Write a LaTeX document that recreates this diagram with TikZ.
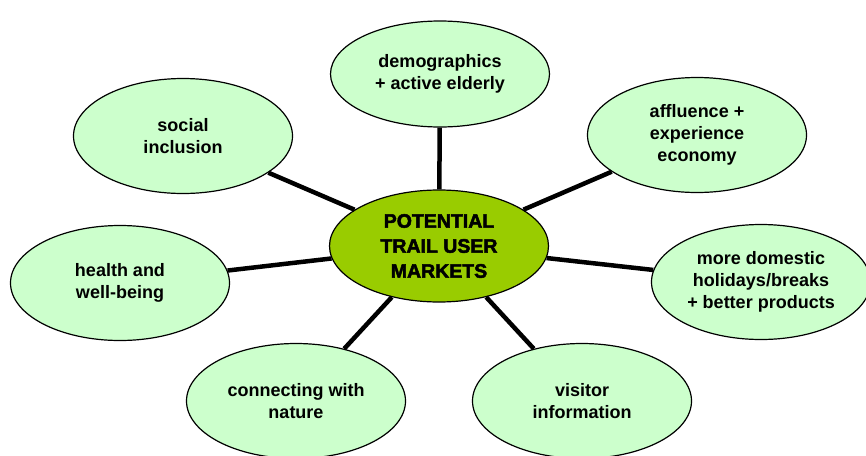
\documentclass[tikz,border=0pt]{standalone}
\usepackage{fontspec}
\setmainfont{Liberation Sans}
\newfontfamily\heavyfont{Liberation Sans Bold}[FakeBold=2.5]
\usetikzlibrary{shapes.geometric}
\definecolor{leafgreen}{HTML}{CCFFCC}
\definecolor{hubgreen}{HTML}{99CC00}

\begin{document}
\begin{tikzpicture}[x=1pt, y=-1pt,
  market/.style={ellipse, draw, line width=1.2pt, fill=leafgreen, inner sep=0pt,
    minimum width=219pt, minimum height=115pt, align=center,
    font=\bfseries\fontsize{18}{22}\selectfont},
  core/.style={market, fill=hubgreen, minimum height=112pt,
    font=\heavyfont\fontsize{19.5}{25}\selectfont},
  spoke/.style={line width=4.5pt}]
  % Page frame
  \useasboundingbox (0,0) rectangle (866,455);

  % Centre
  \node[core] (markets) at (439,246) {POTENTIAL\\TRAIL USER\\MARKETS};

  % Surrounding markets
  \node[market, minimum height=106pt] (demo) at (440,74) {demographics\\+ active elderly};
  \node[market] (social) at (183,136) {social\\inclusion};
  \node[market] (affluence) at (697,135) {affluence +\\experience\\economy};
  \node[market] (health) at (120,283) {health and\\well-being};
  \node[market] (domestic) at (761,282) {more domestic\\holidays/breaks\\+ better products};
  \node[market] (nature) at (296,401) {connecting with\\nature};
  \node[market] (visitor) at (582,401) {visitor\\information};

  % Spokes
  \foreach \m in {demo,social,affluence,health,domestic,nature,visitor}
    \draw[spoke] (markets) -- (\m);
\end{tikzpicture}
\end{document}
